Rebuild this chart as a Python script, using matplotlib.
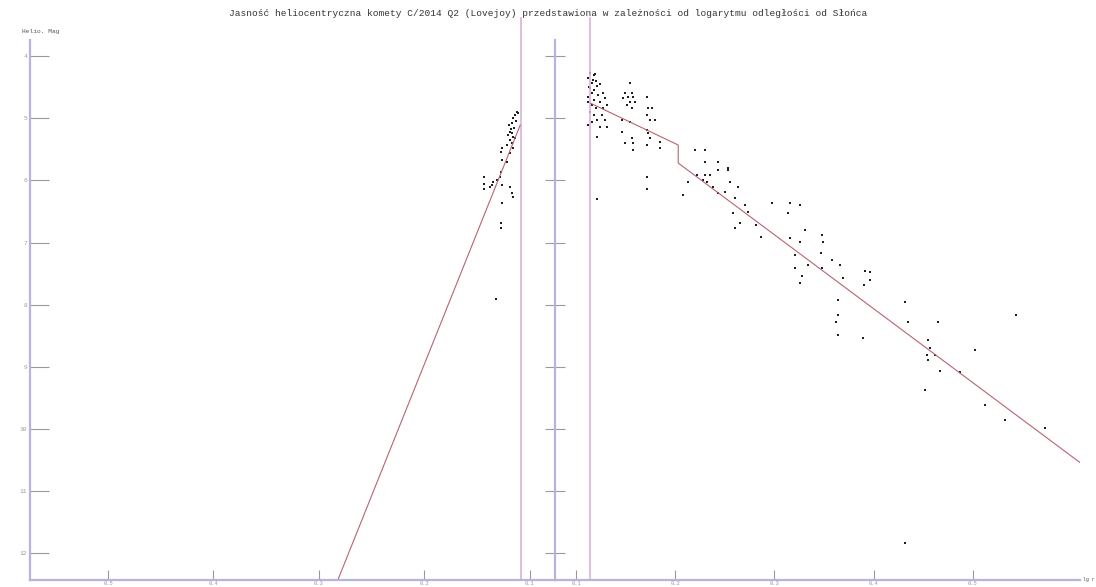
import matplotlib
matplotlib.use("Agg")
import matplotlib.pyplot as plt

# przed peryhelium (log r, jasnosc heliocentryczna)
pre_logr = [0.112, 0.114, 0.111, 0.116, 0.117, 0.119, 0.117, 0.121, 0.116, 0.119,
            0.117, 0.122, 0.126, 0.116, 0.127, 0.119, 0.126, 0.122, 0.127, 0.128,
            0.143, 0.131, 0.135, 0.136, 0.143, 0.143, 0.138, 0.126, 0.119, 0.117,
            0.116, 0.126, 0.127, 0.127, 0.132, 0.113, 0.115, 0.118, 0.114, 0.120]
pre_mag = [4.90, 4.95, 4.92, 5.00, 5.08, 5.22, 5.24, 5.27, 5.30, 5.35,
           5.40, 5.43, 5.48, 5.48, 5.55, 5.56, 5.67, 5.71, 5.87, 5.95,
           5.95, 6.00, 6.03, 6.08, 6.05, 6.14, 6.11, 6.08, 6.11, 6.21,
           6.27, 6.37, 6.69, 6.77, 7.91, 5.05, 5.15, 5.18, 5.32, 5.10]

# po peryhelium
post_logr = [0.112, 0.114, 0.116, 0.118, 0.120, 0.114, 0.116, 0.112, 0.118, 0.121,
             0.124, 0.127, 0.129, 0.112, 0.116, 0.120, 0.114, 0.118, 0.124, 0.127,
             0.131, 0.121, 0.116, 0.124, 0.112, 0.129, 0.131, 0.118, 0.122, 0.113,
             0.117, 0.119, 0.126, 0.121, 0.121,
             0.154, 0.149, 0.156, 0.152, 0.157, 0.147, 0.154, 0.159, 0.151, 0.156,
             0.172, 0.173, 0.177, 0.172, 0.175, 0.180, 0.146, 0.154, 0.172, 0.173,
             0.146, 0.156, 0.149, 0.175, 0.172, 0.157, 0.185, 0.185, 0.157, 0.172,
             0.172,
             0.220, 0.230, 0.230, 0.243, 0.253, 0.222, 0.230, 0.235, 0.228, 0.232,
             0.213, 0.208, 0.238, 0.243, 0.243, 0.253,
             0.255, 0.263, 0.250, 0.260, 0.270, 0.273, 0.258, 0.265, 0.260, 0.281,
             0.286, 0.298, 0.316, 0.326, 0.314, 0.331, 0.316, 0.326, 0.321, 0.334,
             0.321, 0.328, 0.326, 0.348, 0.349, 0.347, 0.358, 0.348, 0.366, 0.369,
             0.391, 0.396, 0.396, 0.390, 0.364, 0.364, 0.362, 0.364, 0.389, 0.432,
             0.435, 0.465, 0.455, 0.457, 0.454, 0.462, 0.455, 0.467, 0.487, 0.452,
             0.502, 0.543, 0.512, 0.532, 0.573, 0.432]
post_mag = [4.35, 4.27, 4.43, 4.30, 4.40, 4.52, 4.60, 4.66, 4.55, 4.48,
            4.45, 4.60, 4.68, 4.74, 4.79, 4.84, 4.90, 4.95, 4.74, 4.84,
            4.79, 5.03, 5.06, 5.14, 5.10, 5.03, 5.14, 4.70, 4.62, 4.50,
            4.38, 4.28, 4.95, 5.30, 6.30,
            4.43, 4.60, 4.60, 4.66, 4.66, 4.68, 4.74, 4.74, 4.79, 4.84,
            4.66, 4.84, 4.84, 4.95, 5.03, 5.03, 5.03, 5.06, 5.19, 5.24,
            5.22, 5.32, 5.40, 5.32, 5.43, 5.40, 5.38, 5.48, 5.51, 5.95,
            6.13,
            5.51, 5.51, 5.71, 5.71, 5.80, 5.92, 5.92, 5.92, 6.00, 6.03,
            6.03, 6.24, 6.11, 6.21, 5.84, 5.84,
            6.03, 6.11, 6.19, 6.29, 6.40, 6.51, 6.53, 6.69, 6.77, 6.72,
            6.91, 6.37, 6.37, 6.40, 6.53, 6.80, 6.93, 6.99, 7.20, 7.36,
            7.41, 7.53, 7.65, 6.88, 6.99, 7.16, 7.28, 7.41, 7.36, 7.57,
            7.45, 7.48, 7.61, 7.69, 7.93, 8.17, 8.28, 8.49, 8.54, 7.96,
            8.28, 8.28, 8.57, 8.70, 8.81, 8.81, 8.89, 9.06, 9.09, 9.38,
            8.73, 8.17, 9.62, 9.86, 9.99, 11.84]

# dopasowane krzywe
fit_pre_logr = [0.282, 0.109]
fit_pre_mag = [12.43, 5.11]
fit_post_logr = [0.115, 0.203, 0.203, 0.608]
fit_post_mag = [4.76, 5.43, 5.72, 10.54]

perihelion_pre = 0.1085
perihelion_post = 0.114

mag_ticks = [4, 5, 6, 7, 8, 9, 10, 11, 12]
x_ticks = [0.1, 0.2, 0.3, 0.4, 0.5]
x_labels = ["0.1", "0.2", "0.3", "0.4", "0.5"]

title = ("Jasność heliocentryczna komety C/2014 Q2 (Lovejoy) przedstawiona "
         "w zależności od logarytmu odległości od Słońca")

axis_col = "#b4b4dc"
tick_col = "#9a9a9a"
pink = "#dcb0da"
fit_col = "#b86470"
mono = "Liberation Mono"

W, H = 1096, 587
fig = plt.figure(figsize=(W / 100, H / 100), dpi=100)
axL = fig.add_axes([30 / W, 7 / H, 525 / W, 540 / H])
axR = fig.add_axes([555 / W, 7 / H, 525 / W, 540 / H])

axL.set_xlim(0.574, 0.076)
axR.set_xlim(0.0788, 0.608)
for ax in (axL, axR):
    ax.set_ylim(12.43, 3.74)
    ax.patch.set_alpha(0)
    for s in ("top", "right"):
        ax.spines[s].set_visible(False)
    for s in ("left", "bottom"):
        ax.spines[s].set_color(axis_col)
        ax.spines[s].set_linewidth(1.6)
    ax.set_xticks(x_ticks)
    ax.set_xticklabels(x_labels, fontsize=4, family=mono, color=tick_col)
    ax.tick_params(axis="x", direction="in", length=7, color=tick_col, pad=1)
    ax.set_yticks(mag_ticks)

axL.set_yticklabels([str(m) for m in mag_ticks], fontsize=4.5, family=mono,
                    color=tick_col)
axL.tick_params(axis="y", direction="in", length=14, color=tick_col, pad=2)
axR.set_yticklabels([])
axR.tick_params(axis="y", direction="inout", length=14, color=tick_col)

axL.axvline(perihelion_pre, ymax=1.04, color=pink, lw=1.2, clip_on=False)
axR.axvline(perihelion_post, ymax=1.04, color=pink, lw=1.2, clip_on=False)

axL.plot(fit_pre_logr, fit_pre_mag, color=fit_col, lw=0.8)
axR.plot(fit_post_logr, fit_post_mag, color=fit_col, lw=0.8)

axL.scatter(pre_logr, pre_mag, s=3, color="#202020", marker="s", lw=0)
axR.scatter(post_logr, post_mag, s=3, color="#202020", marker="s", lw=0)

fig.text(0.5, 1 - 13 / H, title, ha="center", va="center", fontsize=6.8,
         family=mono, color="#333333")
fig.text(22 / W, 1 - 32 / H, "Helio. Mag", ha="left", va="center",
         fontsize=4.5, family=mono, color="#555555")
fig.text(1083 / W, 7 / H, "lg r", ha="left", va="center", fontsize=3.5,
         family=mono, color="#555555")

fig.savefig("out.png", dpi=100)
